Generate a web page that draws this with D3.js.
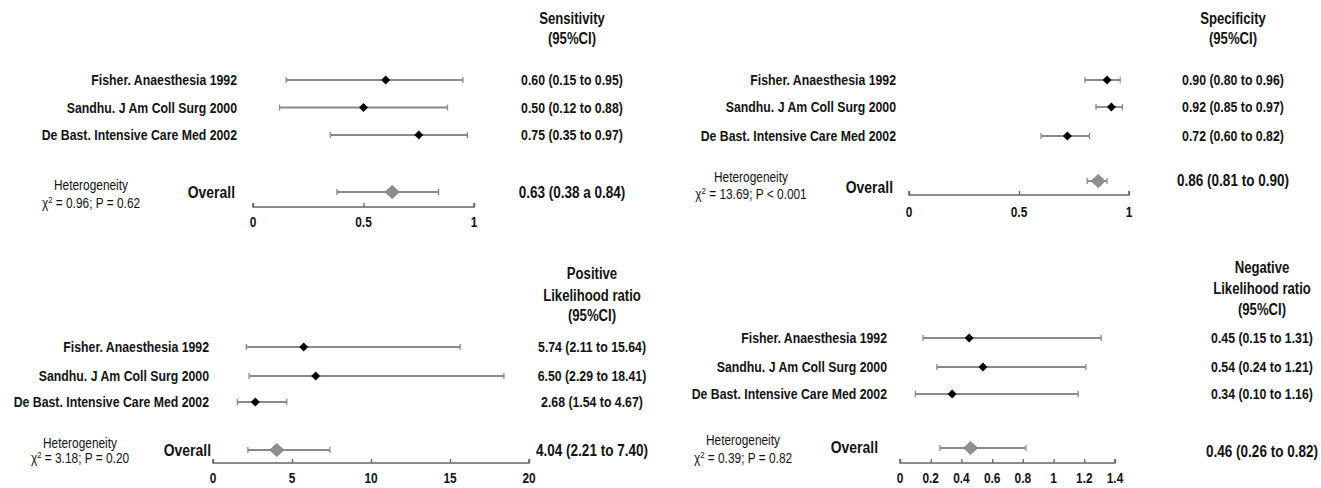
<!DOCTYPE html>
<html>
<head>
<meta charset="utf-8">
<script src="https://cdn.jsdelivr.net/npm/d3@7"></script>
<style>
  html, body { margin: 0; padding: 0; background: #fff; }
  svg { display: block; }
</style>
</head>
<body>
<svg id="chart" width="1321" height="488"></svg>
<script>
// ---------------- DATA ----------------
const studies = ["Fisher. Anaesthesia 1992", "Sandhu. J Am Coll Surg 2000", "De Bast. Intensive Care Med 2002"];

const sensEst = [0.60, 0.50, 0.75];
const sensLo  = [0.15, 0.12, 0.35];
const sensHi  = [0.95, 0.88, 0.97];
const sensOverall = [0.63, 0.38, 0.84];
const sensHet = ["0.96", "0.62", "="];

const specEst = [0.90, 0.92, 0.72];
const specLo  = [0.80, 0.85, 0.60];
const specHi  = [0.96, 0.97, 0.82];
const specOverall = [0.86, 0.81, 0.90];
const specHet = ["13.69", "0.001", "<"];

const plrEst = [5.74, 6.50, 2.68];
const plrLo  = [2.11, 2.29, 1.54];
const plrHi  = [15.64, 18.41, 4.67];
const plrOverall = [4.04, 2.21, 7.40];
const plrHet = ["3.18", "0.20", "="];

const nlrEst = [0.45, 0.54, 0.34];
const nlrLo  = [0.15, 0.24, 0.10];
const nlrHi  = [1.31, 1.21, 1.16];
const nlrOverall = [0.46, 0.26, 0.82];
const nlrHet = ["0.39", "0.82", "="];

const sensTicks = [0, 0.5, 1];
const specTicks = [0, 0.5, 1];
const plrTicks  = [0, 5, 10, 15, 20];
const nlrTicks  = [0, 0.2, 0.4, 0.6, 0.8, 1, 1.2, 1.4];

const sensTitle = ["Sensitivity", "(95%CI)"];
const specTitle = ["Specificity", "(95%CI)"];
const plrTitle  = ["Positive", "Likelihood ratio", "(95%CI)"];
const nlrTitle  = ["Negative", "Likelihood ratio", "(95%CI)"];

// ---------------- PANELS (data + layout) ----------------
const panels = [
  { title: sensTitle, est: sensEst, lo: sensLo, hi: sensHi, overall: sensOverall, het: sensHet, ticks: sensTicks, domain: [0, 1], conn: "a",
    x0: 253, x1: 474, axisY: 207, rows: [80, 107.5, 135], overallY: 192, overallLabelY: 192, overallValY: 192,
    labelRight: 237, overallRight: 235, valX: 572, titleY: [18, 38], hetX: 91, hetY: [185, 203], tickLabelY: 222 },
  { title: specTitle, est: specEst, lo: specLo, hi: specHi, overall: specOverall, het: specHet, ticks: specTicks, domain: [0, 1], conn: "to",
    x0: 909, x1: 1129, axisY: 195, rows: [80, 107, 136], overallY: 181, overallLabelY: 187, overallValY: 180,
    labelRight: 896, overallRight: 893, valX: 1233, titleY: [18, 38], hetX: 751, hetY: [177, 194], tickLabelY: 212 },
  { title: plrTitle, est: plrEst, lo: plrLo, hi: plrHi, overall: plrOverall, het: plrHet, ticks: plrTicks, domain: [0, 20], conn: "to",
    x0: 213, x1: 529, axisY: 463, rows: [347, 376, 402], overallY: 450, overallLabelY: 450, overallValY: 450,
    labelRight: 209, overallRight: 211, valX: 592, titleY: [273, 295, 315], hetX: 80, hetY: [443, 458], tickLabelY: 478 },
  { title: nlrTitle, est: nlrEst, lo: nlrLo, hi: nlrHi, overall: nlrOverall, het: nlrHet, ticks: nlrTicks, domain: [0, 1.4], conn: "to",
    x0: 900, x1: 1115, axisY: 463, rows: [338, 367, 394], overallY: 448, overallLabelY: 447, overallValY: 451,
    labelRight: 887, overallRight: 878, valX: 1262, titleY: [267, 288, 309], hetX: 743, hetY: [440, 458], tickLabelY: 478 }
];

const svg = d3.select("#chart");

// ---- font detection: condensed font ----
const probe = svg.append("text").attr("font-size", 100).attr("font-weight", "bold")
  .attr("font-family", "'Liberation Sans Narrow'").text("Intensive Care Med");
const wN = probe.node().getComputedTextLength();
probe.attr("font-family", "'Liberation Sans'");
const wR = probe.node().getComputedTextLength();
probe.remove();
const hasNarrow = wN < wR * 0.9;
const FAMILY = hasNarrow ? "'Liberation Sans Narrow', 'Arial Narrow', sans-serif" : "'Liberation Sans', Arial, sans-serif";
const SX = hasNarrow ? 1 : 0.82;

const TXT = "#121212";
function label(g, x, y, str, opts = {}) {
  const t = g.append("text")
    .attr("transform", `translate(${x},${y}) scale(${SX},1)`)
    .attr("font-family", FAMILY)
    .attr("font-size", opts.size || 15)
    .attr("font-weight", opts.weight || "bold")
    .attr("text-anchor", opts.anchor || "middle")
    .attr("dy", "0.35em")
    .attr("fill", TXT);
  if (str !== null) t.text(str);
  return t;
}

const f2 = d3.format(".2f");
const diamond = (cx, cy, hw, hh) => `M${cx - hw},${cy}L${cx},${cy - hh}L${cx + hw},${cy}L${cx},${cy + hh}Z`;

panels.forEach(p => {
  const g = svg.append("g");
  const x = d3.scaleLinear().domain(p.domain).range([p.x0, p.x1]);

  // title
  p.title.forEach((t, i) => label(g, p.valX, p.titleY[i], t, { size: 16 }));

  // studies
  studies.forEach((s, i) => {
    const y = p.rows[i];
    label(g, p.labelRight, y, s, { anchor: "end", size: 15 });
    g.append("line").attr("x1", x(p.lo[i])).attr("x2", x(p.hi[i])).attr("y1", y).attr("y2", y)
      .attr("stroke", "#8a8a8a").attr("stroke-width", 1.8);
    [p.lo[i], p.hi[i]].forEach(v => {
      g.append("line").attr("x1", x(v)).attr("x2", x(v)).attr("y1", y - 3).attr("y2", y + 3)
        .attr("stroke", "#8a8a8a").attr("stroke-width", 1.3);
    });
    g.append("path").attr("d", diamond(x(p.est[i]), y, 4.5, 4.5)).attr("fill", "#000");
    label(g, p.valX, y, `${f2(p.est[i])} (${f2(p.lo[i])} to ${f2(p.hi[i])})`, { size: 15 });
  });

  // overall
  const oy = p.overallY;
  const [oe, olo, ohi] = p.overall;
  g.append("line").attr("x1", x(olo)).attr("x2", x(ohi)).attr("y1", oy).attr("y2", oy)
    .attr("stroke", "#8a8a8a").attr("stroke-width", 1.8);
  [olo, ohi].forEach(v => {
    g.append("line").attr("x1", x(v)).attr("x2", x(v)).attr("y1", oy - 3).attr("y2", oy + 3)
      .attr("stroke", "#8a8a8a").attr("stroke-width", 1.3);
  });
  g.append("path").attr("d", diamond(x(oe), oy, 7, 6.5)).attr("fill", "#8f8f8f").attr("stroke", "#7a7a7a").attr("stroke-width", 0.8);
  label(g, p.overallRight, p.overallLabelY, "Overall", { anchor: "end", size: 17 });
  label(g, p.valX, p.overallValY, `${f2(oe)} (${f2(olo)} ${p.conn} ${f2(ohi)})`, { size: 16.5 });

  // heterogeneity
  label(g, p.hetX, p.hetY[0], "Heterogeneity", { size: 14.5, weight: "normal" });
  const h = label(g, p.hetX, p.hetY[1], null, { size: 14.5, weight: "normal" });
  h.append("tspan").text("χ");
  h.append("tspan").attr("dy", "-5").attr("font-size", 9.5).text("2");
  h.append("tspan").attr("dy", "5").text(` = ${p.het[0]}; P ${p.het[2]} ${p.het[1]}`);

  // axis
  const axis = d3.axisBottom(x).tickValues(p.ticks).tickSize(-4).tickFormat(d3.format("~g"));
  const ag = g.append("g").attr("transform", `translate(0,${p.axisY})`).call(axis);
  ag.select(".domain").attr("stroke", "#666").attr("stroke-width", 1.6).attr("d", `M${p.x0},-4V0H${p.x1}V-4`);
  ag.selectAll(".tick line").attr("stroke", "#666").attr("stroke-width", 1.3);
  ag.selectAll(".tick text").remove();
  p.ticks.forEach(v => label(g, x(v), p.tickLabelY, d3.format("~g")(v), { size: 14.5 }));
});
</script>
</body>
</html>
